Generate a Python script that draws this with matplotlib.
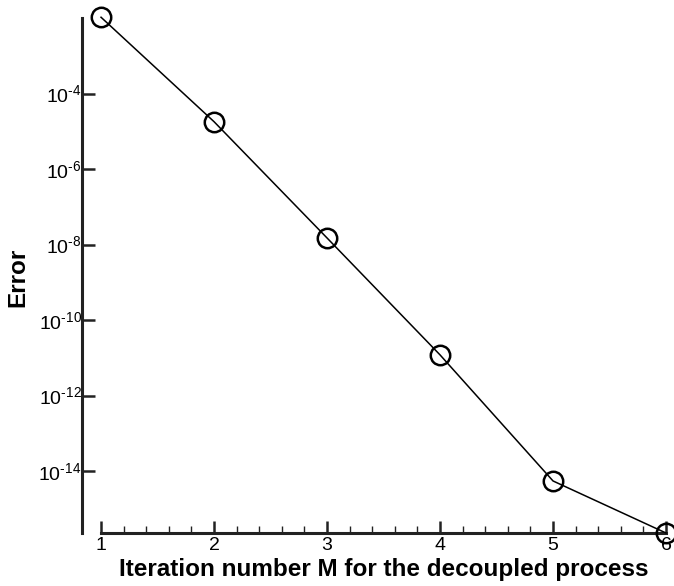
import math
import matplotlib
matplotlib.use("Agg")
import matplotlib.pyplot as plt
from matplotlib.ticker import FixedLocator, MultipleLocator, FuncFormatter

plt.rcParams['font.family'] = ['Liberation Sans', 'DejaVu Sans']
plt.rcParams['mathtext.fontset'] = 'custom'
plt.rcParams['mathtext.rm'] = 'Liberation Sans'
plt.rcParams['mathtext.it'] = 'Liberation Sans'

iterations = [1, 2, 3, 4, 5, 6]
errors = [1.05e-2, 1.8e-5, 1.5e-8, 1.2e-11, 5.5e-15, 2.3e-16]
ytick_exps = [-4, -6, -8, -10, -12, -14]

fig = plt.figure(figsize=(6.74, 5.86), dpi=100)
ax = fig.add_axes([0.1499, 0.0904, 0.8383, 0.8788])

ax.plot(iterations, errors, color="black", lw=1.1, marker='o',
        markersize=14, markerfacecolor='none', markeredgecolor='black',
        markeredgewidth=1.8, clip_on=False, zorder=3)

ax.set_yscale("log")
ax.set_xlim(1, 6)
ax.set_ylim(2.3e-16, 1.0e-2)

for s in ("top", "right"):
    ax.spines[s].set_visible(False)
ax.spines["left"].set_position(("outward", 14))
for s in ("left", "bottom"):
    ax.spines[s].set_linewidth(2.2)
    ax.spines[s].set_color("#222222")


def exp_label(v, pos):
    e = round(math.log10(v))
    return r"$\mathregular{10^{\text{%d}}}$" % e


ax.yaxis.set_major_locator(FixedLocator([10.0 ** e for e in ytick_exps]))
ax.yaxis.set_minor_locator(FixedLocator([]))
ax.yaxis.set_major_formatter(FuncFormatter(exp_label))
ax.tick_params(axis='y', direction='in', length=9, width=1.8,
               labelsize=14, pad=0, color="#222222")

ax.xaxis.set_major_locator(MultipleLocator(1))
ax.xaxis.set_minor_locator(MultipleLocator(0.2))
ax.tick_params(axis='x', which='major', direction='in', length=9, width=1.8,
               labelsize=14, pad=3, color="#222222")
ax.tick_params(axis='x', which='minor', direction='in', length=5, width=1.0,
               color="#222222")

ax.set_xlabel("Iteration number M for the decoupled process",
              fontsize=17.5, fontweight="bold", labelpad=3)
fig.text(18 / 674, 1 - 277 / 586, "Error", rotation=90, ha="center",
         va="center", fontsize=17.5, fontweight="bold")

fig.savefig("out.png", dpi=100)
